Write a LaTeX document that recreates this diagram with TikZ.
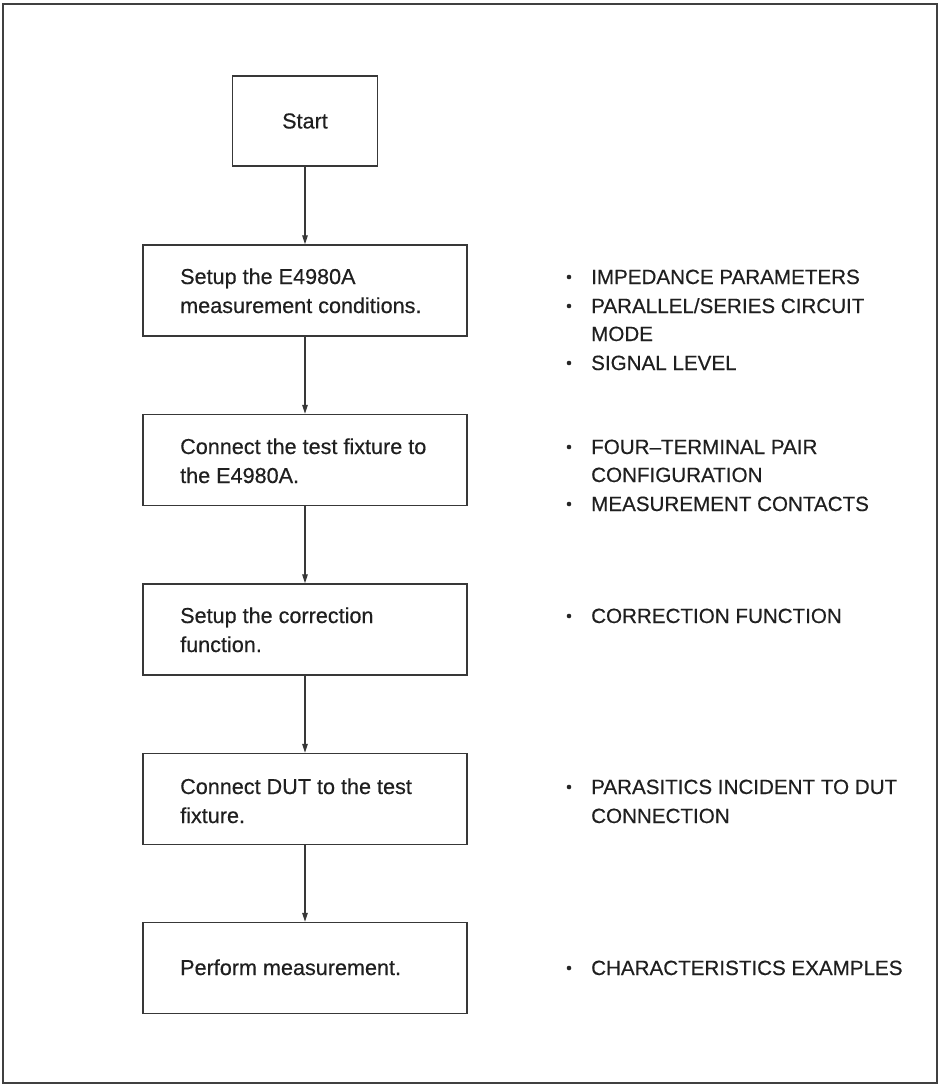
\documentclass[tikz,border=0pt]{standalone}
\usepackage{fontspec}
\setmainfont{Liberation Sans}[FakeBold=0.45]
\usetikzlibrary{arrows.meta}
\begin{document}
\begin{tikzpicture}[x=1pt,y=-1pt,
  every node/.style={font=\fontsize{21.6}{29}\selectfont, text=black!88},
  stepbox/.style={draw=black!78, line width=1.3pt, inner sep=0pt, minimum width=324pt, minimum height=91pt},
  lbl/.style={anchor=base west, inner sep=0pt},
  caplbl/.style={anchor=base west, inner sep=0pt, font=\fontsize{20.6}{29}\selectfont},
  bul/.style={circle, fill=black!85, draw=none, inner sep=0pt, minimum size=4.6pt},
  flow/.style={draw=black!78, line width=1.2pt, -{Triangle[length=9pt,width=5.5pt]}}]
\useasboundingbox (0,0) rectangle (939,1085);
\draw[black!75, line width=2.2pt] (3,4) rectangle (937,1083);

% boxes
\node[draw=black!78, line width=1.3pt, minimum width=145pt, minimum height=90pt] (start) at (305,121) {Start};
\node[stepbox] (b1) at (305,290.5) {};
\node[stepbox] (b2) at (305,460) {};
\node[stepbox] (b3) at (305,629.5) {};
\node[stepbox] (b4) at (305,799) {};
\node[stepbox] (b5) at (305,968) {};

% arrows
\draw[flow] (start.south) -- (b1.north);
\draw[flow] (b1.south) -- (b2.north);
\draw[flow] (b2.south) -- (b3.north);
\draw[flow] (b3.south) -- (b4.north);
\draw[flow] (b4.south) -- (b5.north);

% box texts
\node[lbl] (t1a) at (180,284) {Setup the E4980A};
\node[lbl] (t1b) at (180,313) {measurement conditions.};
\node[lbl] (t2a) at (180,454) {Connect the test fixture to};
\node[lbl] (t2b) at (180,483) {the E4980A.};
\node[lbl] (t3a) at (180,623) {Setup the correction};
\node[lbl] (t3b) at (180,652) {function.};
\node[lbl] (t4a) at (180,794) {Connect DUT to the test};
\node[lbl] (t4b) at (180,823) {fixture.};
\node[lbl] (t5a) at (180,975) {Perform measurement.};

% bullets
\node[bul] (d1) at (569,277) {};
\node[caplbl] (n1) at (591,284) {IMPEDANCE PARAMETERS};
\node[bul] (d2) at (569,306) {};
\node[caplbl] (n2) at (591,313) {PARALLEL/SERIES CIRCUIT};
\node[caplbl] (n2b) at (591,341) {MODE};
\node[bul] (d3) at (569,363) {};
\node[caplbl] (n3) at (591,370) {SIGNAL LEVEL};

\node[bul] (d4) at (569,447) {};
\node[caplbl] (n4) at (591,454) {FOUR–TERMINAL PAIR};
\node[caplbl] (n4b) at (591,482) {CONFIGURATION};
\node[bul] (d5) at (569,504) {};
\node[caplbl] (n5) at (591,511) {MEASUREMENT CONTACTS};

\node[bul] (d6) at (569,616) {};
\node[caplbl] (n6) at (591,623) {CORRECTION FUNCTION};

\node[bul] (d7) at (569,787) {};
\node[caplbl] (n7) at (591,794) {PARASITICS INCIDENT TO DUT};
\node[caplbl] (n7b) at (591,823) {CONNECTION};

\node[bul] (d8) at (569,968) {};
\node[caplbl] (n8) at (591,975) {CHARACTERISTICS EXAMPLES};
\end{tikzpicture}
\end{document}
